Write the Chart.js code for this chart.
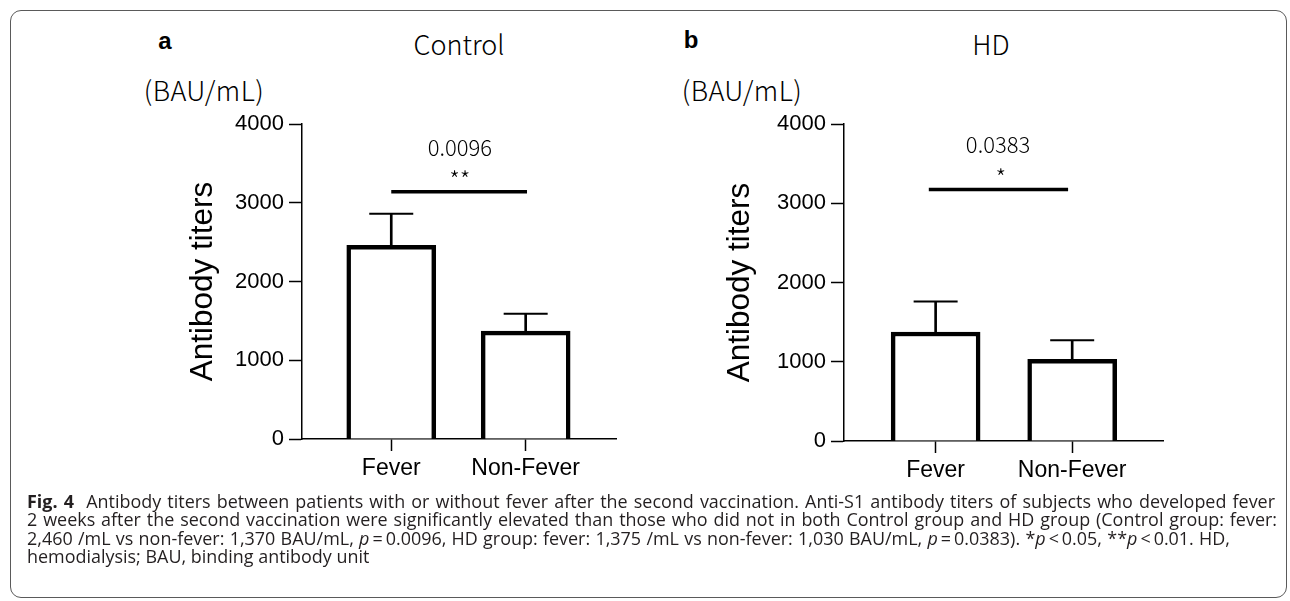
<!DOCTYPE html>
<html><head><meta charset="utf-8">
<script src="https://cdn.jsdelivr.net/npm/chart.js@4.4.1/dist/chart.umd.min.js"></script>
<style>
html,body{margin:0;padding:0;background:#fff;}
body{width:1290px;height:601px;position:relative;overflow:hidden;}
#frame{position:absolute;left:10px;top:10px;width:1277px;height:588px;border:1.5px solid #5a5a5a;border-radius:11px;box-sizing:border-box;}
.t{position:absolute;white-space:nowrap;color:#000;line-height:1;transform:translate(-50%,-50%);}
.hd{font-family:"Noto Sans CJK JP","Noto Sans",sans-serif;font-weight:300;}
.lab{font-family:"Liberation Sans",Arial,sans-serif;font-weight:700;font-size:24px;}
.unit{font-family:"Noto Sans CJK JP","Noto Sans",sans-serif;font-weight:300;font-size:27px;letter-spacing:0.5px;}
canvas{position:absolute;}
#cap{position:absolute;left:27px;top:492px;font-family:"Open Sans",Lato,sans-serif;font-size:15px;color:#231f20;line-height:18.3px;}
#cap div{white-space:nowrap;}
#cap .j{text-align:justify;text-align-last:justify;}
</style>
</head><body>
<div id="frame"></div>
<div class="t lab" style="left:165px;top:41px;">a</div>
<div class="t hd" style="left:459px;top:43px;font-size:27px;">Control</div>
<div class="t unit" style="left:204px;top:89px;">(BAU/mL)</div>
<div class="t lab" style="left:691px;top:40px;">b</div>
<div class="t hd" style="left:991px;top:43px;font-size:27px;">HD</div>
<div class="t unit" style="left:742px;top:89px;">(BAU/mL)</div>

<div style="position:absolute;left:0;top:100px;width:640px;height:400px;"><canvas id="c1" width="640" height="400"></canvas></div>
<div style="position:absolute;left:640px;top:100px;width:640px;height:400px;"><canvas id="c2" width="640" height="400"></canvas></div>

<div id="cap">
<div class="j" style="width:1248px;"><b>Fig. 4</b>&nbsp;&nbsp;Antibody titers between patients with or without fever after the second vaccination. Anti-S1 antibody titers of subjects who developed fever</div>
<div class="j" style="width:1250px;">2 weeks after the second vaccination were significantly elevated than those who did not in both Control group and HD group (Control group: fever:</div>
<div class="j" style="width:1203px;">2,460 /mL vs non-fever: 1,370 BAU/mL, <i>p</i>&#8201;=&#8201;0.0096, HD group: fever: 1,375 /mL vs non-fever: 1,030 BAU/mL, <i>p</i>&#8201;=&#8201;0.0383). *<i>p</i>&#8201;&lt;&#8201;0.05, **<i>p</i>&#8201;&lt;&#8201;0.01. HD,</div>
<div>hemodialysis; BAU, binding antibody unit</div>
</div>

<script>
// ---- data ----
const categories = ['Fever', 'Non-Fever'];
const yTicks = [0, 1000, 2000, 3000, 4000];
const controlMeans = [2460, 1370];
const controlErrTop = [2860, 1590];
const hdMeans = [1375, 1030];
const hdErrTop = [1760, 1270];
const controlP = '0.0096';
const controlStars = '**';
const hdP = '0.0383';
const hdStars = '*';
const controlSigLevel = 3140;
const hdSigLevel = 3175;
const yTitle = 'Antibody titers';

// fit caption font so that the widest line's natural width matches its box
function fitCaption() {
  const cap = document.getElementById('cap');
  cap.style.fontSize = '15px';
  let ratio = Infinity;
  Array.from(cap.children).forEach(line => {
    if (!line.classList.contains('j')) return;
    const target = parseFloat(line.style.width);
    line.classList.remove('j');
    const probe = document.createElement('span');
    probe.style.whiteSpace = 'nowrap';
    while (line.firstChild) probe.appendChild(line.firstChild);
    line.appendChild(probe);
    const w = probe.getBoundingClientRect().width;
    while (probe.firstChild) line.appendChild(probe.firstChild);
    line.removeChild(probe);
    line.classList.add('j');
    ratio = Math.min(ratio, target / w);
  });
  cap.style.fontSize = (15 * ratio * 0.99).toFixed(2) + 'px';
}
fitCaption();
if (document.fonts && document.fonts.ready) document.fonts.ready.then(fitCaption);

const annot = {
  id: 'annot',
  afterDatasetsDraw(chart, args, opts) {
    const {ctx, scales: {x, y}} = chart;
    ctx.save();
    ctx.fillStyle = '#000';
    ctx.textAlign = 'center';
    (opts.items || []).forEach(it => {
      ctx.font = it.font;
      ctx.textBaseline = it.baseline;
      ctx.fillText(it.text, x.getPixelForValue(it.x), y.getPixelForValue(it.y));
    });
    ctx.restore();
  }
};

function build(id, means, errTop, pText, stars, sigLevel, sigRange, L) {
  const pts = v => v.map((val, i) => ({x: i, y: val}));
  const font = "'Liberation Sans', Arial, sans-serif";
  const annFont = "'Noto Sans CJK JP', 'Noto Sans', sans-serif";
  new Chart(document.getElementById(id), {
    type: 'bar',
    data: {
      datasets: [
        {type: 'bar', data: pts(means), backgroundColor: '#fff', borderColor: '#000',
         borderWidth: 4.5, barThickness: 89, grouped: false},
        {type: 'bar', data: means.map((v, i) => ({x: i, y: [v, errTop[i]]})), backgroundColor: '#000',
         borderWidth: 0, barThickness: 2, grouped: false},
        {type: 'line', data: pts(errTop), showLine: false, pointStyle: 'line', pointRadius: 22,
         pointBorderWidth: 2, borderColor: '#000', pointBorderColor: '#000'},
        {type: 'line', data: [{x: sigRange[0], y: sigLevel}, {x: sigRange[1], y: sigLevel}],
         borderColor: '#000', borderWidth: 3.5, pointRadius: 0, borderCapStyle: 'butt'}
      ]
    },
    plugins: [annot],
    options: {
      responsive: false, animation: false, events: [],
      layout: {padding: {left: 0, top: L.top, right: L.right, bottom: 0}},
      plugins: {
        legend: {display: false}, tooltip: {enabled: false},
        annot: {items: [
          {text: pText, x: L.pX, y: L.pY, font: "300 22px " + annFont, baseline: 'middle'},
          {text: stars, x: L.sX, y: L.sY, font: "300 24px " + annFont, baseline: 'alphabetic'}
        ]}
      },
      scales: {
        x: {
          type: 'linear', min: L.xmin, max: L.xmax, offset: false,
          afterBuildTicks: s => { s.ticks = categories.map((c, i) => ({value: i})); },
          afterFit: s => { s.height = L.xh; },
          ticks: {callback: v => categories[v], font: {family: font, size: 23}, color: '#000', padding: 4, maxRotation: 0, autoSkip: false},
          grid: {offset: false, drawOnChartArea: false, drawTicks: true, tickLength: 12, tickColor: '#000', tickWidth: 1.5, color: '#000'},
          border: {display: true, color: '#000', width: 1.5}
        },
        y: {
          min: 0, max: 4000,
          afterBuildTicks: s => { s.ticks = yTicks.map(v => ({value: v})); },
          afterFit: s => { s.width = L.yw; },
          ticks: {callback: v => String(v), font: {family: font, size: 22}, color: '#000', padding: 5},
          grid: {drawOnChartArea: false, drawTicks: true, tickLength: 13, tickColor: '#000', tickWidth: 1.5, color: '#000'},
          border: {display: true, color: '#000', width: 1.5},
          title: {display: true, text: yTitle, color: '#000', font: {family: font, size: 31.5}, padding: {top: L.tp, bottom: 0}}
        }
      }
    }
  });
}

build('c1', controlMeans, controlErrTop, controlP, controlStars, controlSigLevel, [0, 1.01],
  {top: 20, right: 18, xmin: -0.664, xmax: 1.672, xh: 61, yw: 302, tp: 184,
   pX: 0.51, pY: 3700, sX: 0.51, sY: 3175});
build('c2', hdMeans, hdErrTop, hdP, hdStars, hdSigLevel, [-0.05, 0.97],
  {top: 23, right: 117, xmin: -0.671, xmax: 1.665, xh: 59, yw: 204, tp: 81,
   pX: 0.457, pY: 3740, sX: 0.478, sY: 3210});
</script>
</body></html>
